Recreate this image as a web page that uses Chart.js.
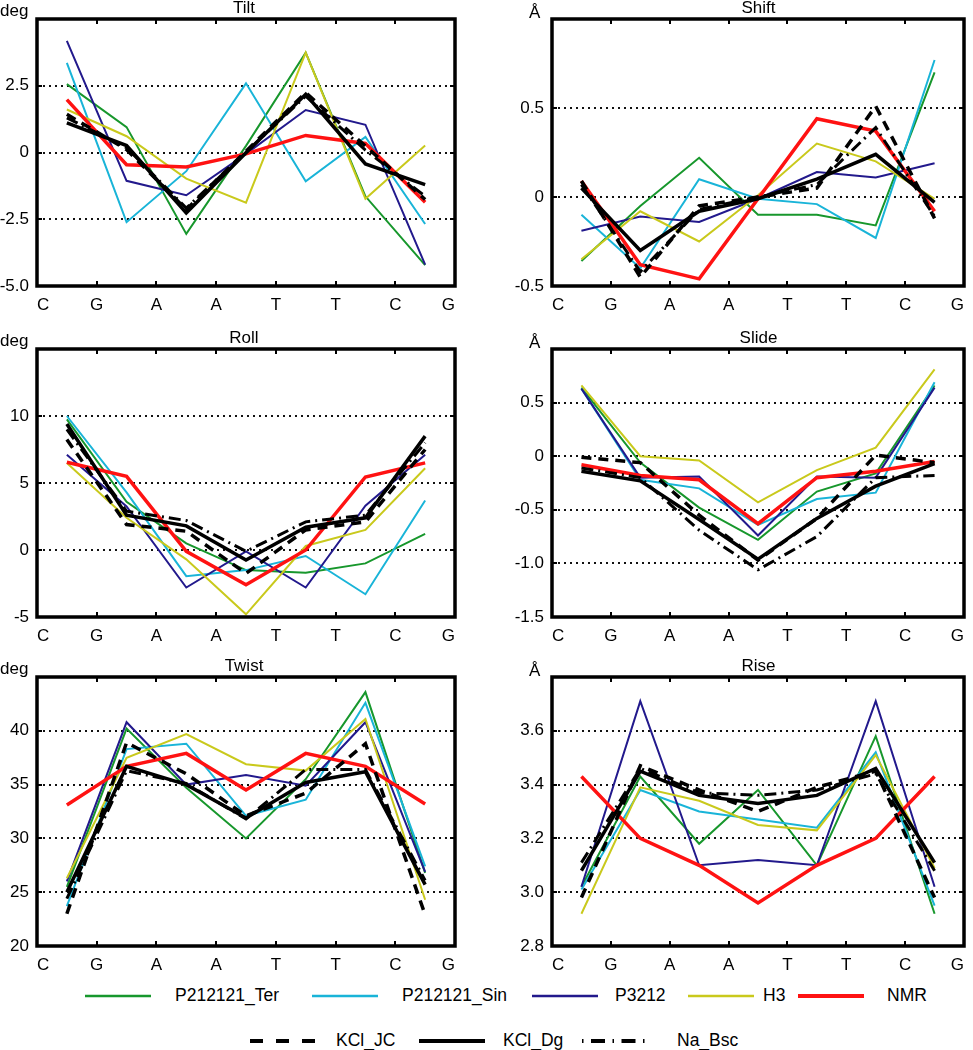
<!DOCTYPE html>
<html>
<head>
<meta charset="utf-8">
<script src="https://cdn.jsdelivr.net/npm/chart.js@4/dist/chart.umd.min.js"></script>
<style>
  html, body { margin: 0; padding: 0; background: #fff; }
  #wrap { position: relative; width: 973px; height: 1050px; overflow: hidden; background: #fff;
          font-family: "Liberation Sans", Arial, sans-serif; color: #000; }
  canvas { position: absolute; }
  .txt { position: absolute; white-space: nowrap; }
  svg.leg { position: absolute; overflow: visible; }
</style>
</head>
<body>
<div id="wrap"></div>
<script>
// ---------------- DATA ----------------
const bases = ['C', 'G', 'A', 'A', 'T', 'T', 'C', 'G'];
const seriesNames = ['P212121_Ter', 'P212121_Sin', 'P3212', 'H3', 'NMR', 'KCl_JC', 'KCl_Dg', 'Na_Bsc'];
const seriesColors = ['#17972c', '#19b4d8', '#22198c', '#c9c91c', '#ff1212', '#000000', '#000000', '#000000'];
const seriesWidths = [2, 2, 2, 2, 3.5, 3.5, 3.5, 3];
const seriesDashes = [[], [], [], [], [], [10, 7], [], [12, 5, 2, 5]];

const panelTitles = ['Tilt', 'Shift', 'Roll', 'Slide', 'Twist', 'Rise'];
const panelUnits = ['deg', 'Å', 'deg', 'Å', 'deg', 'Å'];
const yMins = [-5, -0.5, -5, -1.5, 20, 2.8];
const yMaxs = [5, 1.0, 15, 1.0, 45, 3.8];
const ySteps = [2.5, 0.5, 5, 0.5, 5, 0.2];
const yDecimals = [1, 1, 0, 1, 0, 1];

// rows follow seriesNames order; 7 base-pair steps each
const tilt = [
  [2.56, 0.95, -3.05, 0.25, 3.74, -1.64, -4.22],
  [3.36, -2.61, -0.70, 2.59, -1.08, 0.58, -2.68],
  [4.18, -1.06, -1.60, -0.05, 1.59, 1.04, -4.20],
  [1.61, 0.61, -0.98, -1.88, 3.74, -1.73, 0.26],
  [1.98, -0.46, -0.54, -0.05, 0.64, 0.34, -1.86],
  [1.43, 0.11, -2.14, 0.05, 2.24, 0.24, -1.76],
  [1.11, 0.26, -2.26, -0.01, 2.18, -0.43, -1.20],
  [1.30, 0.18, -2.08, 0.01, 2.11, 0.09, -1.64]
];
const shift = [
  [-0.36, -0.05, 0.22, -0.10, -0.10, -0.16, 0.70],
  [-0.10, -0.40, 0.10, -0.01, -0.04, -0.23, 0.77],
  [-0.19, -0.11, -0.14, -0.01, 0.14, 0.11, 0.19],
  [-0.35, -0.08, -0.25, 0.01, 0.30, 0.20, -0.01],
  [0.09, -0.38, -0.46, -0.01, 0.44, 0.37, -0.08],
  [0.09, -0.45, -0.05, 0.00, 0.05, 0.51, -0.12],
  [0.05, -0.30, -0.08, -0.01, 0.10, 0.24, -0.03],
  [0.07, -0.42, -0.07, 0.00, 0.07, 0.39, -0.11]
];
const roll = [
  [9.75, 3.6, 0.5, -1.5, -1.7, -1.0, 1.2],
  [10.0, 4.3, -1.95, -1.5, -0.45, -3.3, 3.7],
  [7.1, 3.25, -2.8, -0.1, -2.8, 3.3, 7.1],
  [6.5, 2.4, -0.7, -4.8, 0.3, 1.5, 6.1],
  [6.55, 5.5, -0.1, -2.6, 0.0, 5.45, 6.5],
  [8.25, 1.9, 1.4, -1.75, 1.5, 2.1, 7.5],
  [9.4, 2.6, 1.8, -0.75, 1.7, 2.4, 8.5],
  [9.0, 2.9, 2.2, -0.1, 2.1, 2.6, 8.0]
];
const slide = [
  [0.64, -0.06, -0.48, -0.78, -0.33, -0.16, 0.66],
  [0.63, -0.22, -0.30, -0.64, -0.40, -0.34, 0.69],
  [0.63, -0.20, -0.19, -0.74, -0.19, -0.20, 0.64],
  [0.66, 0.00, -0.04, -0.43, -0.13, 0.08, 0.81],
  [-0.08, -0.18, -0.22, -0.63, -0.20, -0.14, -0.05],
  [-0.01, -0.06, -0.55, -0.97, -0.58, 0.01, -0.06],
  [-0.14, -0.23, -0.59, -0.96, -0.58, -0.28, -0.07],
  [-0.11, -0.20, -0.69, -1.06, -0.75, -0.20, -0.18]
];
const twist = [
  [25.5, 40.2, 34.7, 30.0, 35.5, 43.6, 26.8],
  [23.7, 38.3, 38.8, 32.1, 33.6, 42.6, 27.4],
  [26.0, 40.8, 35.0, 35.9, 34.9, 40.8, 26.9],
  [26.3, 37.5, 39.7, 36.9, 36.3, 41.1, 24.3],
  [33.1, 36.7, 37.9, 34.5, 37.9, 36.7, 33.2],
  [23.0, 38.9, 36.0, 32.1, 34.2, 38.8, 22.9],
  [25.0, 36.7, 35.0, 31.9, 35.2, 36.2, 25.7],
  [24.4, 36.3, 35.1, 31.8, 36.4, 36.4, 26.1]
];
const rise = [
  [3.02, 3.43, 3.18, 3.38, 3.10, 3.58, 2.92],
  [3.01, 3.38, 3.30, 3.27, 3.24, 3.52, 2.95],
  [3.02, 3.71, 3.10, 3.12, 3.10, 3.71, 3.02],
  [2.92, 3.39, 3.34, 3.25, 3.23, 3.51, 3.09],
  [3.43, 3.20, 3.10, 2.96, 3.10, 3.20, 3.43],
  [2.98, 3.47, 3.38, 3.30, 3.39, 3.45, 2.98],
  [3.08, 3.45, 3.36, 3.33, 3.36, 3.46, 3.11],
  [3.11, 3.46, 3.37, 3.36, 3.38, 3.44, 3.08]
];
const panelData = [tilt, shift, roll, slide, twist, rise];

// ---------------- LAYOUT ----------------
const colL = [37, 552], colR = [455, 969];
const rowT = [19, 349, 677], rowB = [286, 617, 946];
const canvasX = [0, 485], canvasW = [485, 488];
const canvasY = [0, 325, 655], canvasH = [325, 330, 320];
const FONT = '"Liberation Sans", Arial, sans-serif';
const FS = 17;

Chart.defaults.font.family = FONT;
Chart.defaults.font.size = FS;
Chart.defaults.color = '#000';

const wrap = document.getElementById('wrap');

function addText(str, x, baseline, size, align) {
  const d = document.createElement('div');
  d.className = 'txt';
  d.textContent = str;
  d.style.fontSize = size + 'px';
  d.style.lineHeight = size + 'px';
  d.style.top = (baseline - 0.8465 * size) + 'px';
  if (align === 'center') {
    d.style.left = (x - 200) + 'px';
    d.style.width = '400px';
    d.style.textAlign = 'center';
  } else {
    d.style.left = x + 'px';
  }
  wrap.appendChild(d);
}

const framePlugin = {
  id: 'frame',
  afterDraw(chart) {
    const { ctx, chartArea: a } = chart;
    const xs = chart.scales.x, ys = chart.scales.y;
    ctx.save();
    ctx.strokeStyle = '#000';
    ctx.lineWidth = 2;
    ctx.beginPath();
    xs.ticks.forEach(t => {
      if (t.value > xs.min && t.value < xs.max) {
        const p = Math.round(xs.getPixelForValue(t.value));
        ctx.moveTo(p, a.top); ctx.lineTo(p, a.top + 5);
        ctx.moveTo(p, a.bottom); ctx.lineTo(p, a.bottom - 5);
      }
    });
    ys.ticks.forEach(t => {
      if (t.value > ys.min + 1e-9 && t.value < ys.max - 1e-9) {
        const p = Math.round(ys.getPixelForValue(t.value));
        ctx.moveTo(a.left, p); ctx.lineTo(a.left + 5, p);
        ctx.moveTo(a.right, p); ctx.lineTo(a.right - 5, p);
      }
    });
    ctx.stroke();
    ctx.lineWidth = 3.5;
    ctx.strokeRect(a.left, a.top, a.right - a.left, a.bottom - a.top);
    ctx.restore();
  }
};

panelTitles.forEach((title, i) => {
  const col = i % 2, row = Math.floor(i / 2);
  const L = colL[col], R = colR[col], T = rowT[row], B = rowB[row];
  const cx = canvasX[col], cw = canvasW[col], cy = canvasY[row], ch = canvasH[row];
  const cv = document.createElement('canvas');
  cv.width = cw; cv.height = ch;
  cv.style.left = cx + 'px'; cv.style.top = cy + 'px';
  cv.style.width = cw + 'px'; cv.style.height = ch + 'px';
  wrap.appendChild(cv);

  const yMin = yMins[i], yMax = yMaxs[i], dec = yDecimals[i];
  const datasets = panelData[i].map((vals, s) => ({
    label: seriesNames[s],
    data: vals.map((v, k) => ({ x: k + 0.5, y: v })),
    borderColor: seriesColors[s],
    borderWidth: seriesWidths[s],
    borderDash: seriesDashes[s],
    pointRadius: 0,
    tension: 0,
    fill: false,
    order: seriesNames.length - s
  }));

  new Chart(cv, {
    type: 'line',
    data: { datasets },
    options: {
      responsive: false,
      animation: false,
      devicePixelRatio: 1,
      layout: { padding: { left: 0, right: cx + cw - R, top: T - cy, bottom: 0 } },
      plugins: { legend: { display: false }, tooltip: { enabled: false }, title: { display: false } },
      scales: {
        x: {
          type: 'linear',
          min: 0, max: bases.length - 1,
          grid: { display: false, drawTicks: false },
          border: { display: false },
          afterFit: s => { s.height = cy + ch - B; },
          ticks: {
            stepSize: 1,
            autoSkip: false,
            maxRotation: 0,
            align: 'inner',
            padding: 9,
            font: { size: FS },
            callback: v => bases[Math.round(v)]
          }
        },
        y: {
          type: 'linear',
          min: yMin, max: yMax,
          afterFit: s => { s.width = L - cx; },
          grid: {
            drawTicks: false,
            lineWidth: 2,
            color: c => (c.tick && (Math.abs(c.tick.value - yMin) < 1e-9 || Math.abs(c.tick.value - yMax) < 1e-9)) ? 'rgba(0,0,0,0)' : '#111'
          },
          border: { display: false, dash: [2, 4] },
          ticks: {
            stepSize: ySteps[i],
            padding: 8,
            font: { size: FS },
            callback: v => {
              if (Math.abs(v - yMax) < 1e-9) return '';
              if (Math.abs(v) < 1e-9) return '0';
              return Number(v).toFixed(dec);
            }
          }
        }
      }
    },
    plugins: [framePlugin]
  });

  addText(title, (L + R) / 2 - 2, T - 6, FS, 'center');
  if (panelUnits[i] === 'deg') addText('deg', 0, T - 3, FS);
  else addText(panelUnits[i], L - 23, T - 1, FS);
});

// ---------------- LEGEND ----------------
const legendRows = [0, 0, 0, 0, 0, 1, 1, 1];
const legendRowY = [996, 1041];
const legendLineX = [85, 312, 532, 688, 798, 250, 419, 582];
const legendTextX = [175, 402, 615, 763, 887, 336, 503, 677];
const legendLineLen = 66;
const legendDashSvg = ['', '', '', '', '', '13 13', '', '1.5 7.5 14 7.5'];
const legendLineW = [2.5, 2.5, 2.5, 2.5, 4, 4, 4, 4];

seriesNames.forEach((name, s) => {
  const y = legendRowY[legendRows[s]];
  const svgNS = 'http://www.w3.org/2000/svg';
  const svg = document.createElementNS(svgNS, 'svg');
  svg.setAttribute('class', 'leg');
  svg.setAttribute('width', legendLineLen);
  svg.setAttribute('height', 10);
  svg.style.left = legendLineX[s] + 'px';
  svg.style.top = (y - 5) + 'px';
  const ln = document.createElementNS(svgNS, 'line');
  ln.setAttribute('x1', 0); ln.setAttribute('x2', legendLineLen);
  ln.setAttribute('y1', 5); ln.setAttribute('y2', 5);
  ln.setAttribute('stroke', seriesColors[s]);
  ln.setAttribute('stroke-width', legendLineW[s]);
  if (legendDashSvg[s]) ln.setAttribute('stroke-dasharray', legendDashSvg[s]);
  svg.appendChild(ln);
  wrap.appendChild(svg);
  addText(name, legendTextX[s], y + 6, 17.5);
});
</script>
</body>
</html>
